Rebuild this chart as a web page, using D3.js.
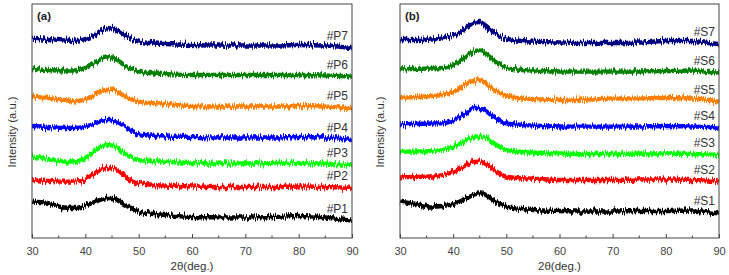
<!DOCTYPE html>
<html>
<head>
<meta charset="utf-8">
<script src="https://cdn.jsdelivr.net/npm/d3@7"></script>
<style>
  body { margin: 0; background: #fff; }
  text { font-family: Arial, "Liberation Sans", sans-serif; }
</style>
</head>
<body>
<div id="chart"></div>
<script>
// 2theta sample points (deg.)
var theta = [30, 33, 36, 38, 40, 41, 42, 43, 44, 45, 46, 47, 48, 49, 50, 52, 55, 60, 65, 70, 75, 80, 85, 88, 90];

// panel (a) intensities (a.u.)
var p1 = [36.3, 35, 30.5, 30, 32.5, 34.5, 36.5, 38.5, 40, 40, 38, 34.5, 31.5, 29, 26.5, 24.5, 23, 21, 20.7, 20.5, 21, 22, 20.5, 18.5, 17.3];
var p2 = [58, 57, 56.3, 56.3, 59, 62, 65.5, 68.5, 70, 70, 68, 64, 60, 57, 55, 53.5, 52.5, 51.5, 51, 51, 51, 51.5, 51, 50.5, 50];
var p3 = [81.3, 79, 76.5, 76.5, 80, 83.5, 88, 91.5, 93, 92.5, 90, 86, 82.5, 79.5, 78, 77, 76.3, 75, 74.5, 74.5, 75, 75, 74.5, 73.5, 73];
var p4 = [112, 111, 110, 110, 111.5, 113, 115, 117, 118, 118, 116, 113, 109.5, 106.5, 104, 102.5, 101.5, 101, 100.5, 100.5, 100.5, 101, 100.5, 99, 98];
var p5 = [141.3, 140, 138, 136.5, 139, 141, 144, 146.5, 148, 148, 146, 143, 140, 138, 136.5, 135, 134, 132, 131.5, 131.5, 131.5, 132, 131.5, 130.5, 130];
var p6 = [169, 168, 167.5, 167.5, 170, 172.5, 176, 179, 180.5, 180.5, 178, 174, 170.5, 168, 166.5, 165, 164, 163, 163, 163, 163, 163, 162.5, 162, 161.3];
var p7 = [200.3, 199, 197.5, 197, 199, 201, 204, 207.5, 209.5, 210, 208, 204.5, 201, 198.5, 196.5, 195, 194, 193, 192.5, 192.5, 192.5, 193, 192.5, 191, 190];

// panel (b) intensities (a.u.)
var s1 = [36.3, 34, 31.5, 32, 34, 36, 38.5, 41, 43.5, 44.7, 43.5, 40, 36.5, 33.5, 31.3, 29.5, 28, 27, 26.5, 26.5, 27, 27, 27.5, 25.5, 24.7];
var s2 = [60.7, 61, 61.5, 63, 66, 68.5, 71.5, 74.5, 76, 76.3, 74.5, 71, 67, 63.5, 61.3, 60, 59.3, 58, 58, 58, 58.5, 58.5, 58, 57.5, 56.3];
var s3 = [86.3, 86.5, 87, 88, 91, 93.5, 96.5, 99, 101, 101.5, 100.5, 97.5, 93.5, 90.5, 88, 86.5, 85.5, 84.5, 84, 84, 84.5, 84.5, 84, 83.5, 83];
var s4 = [113.7, 114, 114.5, 114.7, 117.5, 120, 123.5, 127.5, 130, 130, 127.5, 123.5, 119.5, 116.5, 114.7, 113.5, 112.5, 111.5, 111.3, 111.3, 111.5, 112, 111.5, 111, 110.3];
var s5 = [140.3, 141, 142, 143, 146, 149, 152.5, 155.5, 157.5, 157.5, 155, 151, 147.5, 144.5, 142, 140, 139, 138, 138.5, 139.5, 139.7, 140, 139.5, 138, 136.3];
var s6 = [168.7, 169, 169.5, 170, 173, 176, 180, 184, 187, 187.5, 185, 180.5, 176, 172.5, 170, 168.5, 167.5, 166.5, 166.3, 166.3, 166.5, 167, 167.5, 166, 165.3];
var s7 = [198, 198, 198.5, 199.7, 202.5, 205, 208.5, 212.5, 215.5, 216, 213, 208.5, 204.5, 201.5, 199.5, 197.5, 196.3, 195.5, 195, 195, 195.5, 197, 197, 195, 194];

var namesA = ["#P1", "#P2", "#P3", "#P4", "#P5", "#P6", "#P7"],
    namesB = ["#S1", "#S2", "#S3", "#S4", "#S5", "#S6", "#S7"],
    seriesA = [p1, p2, p3, p4, p5, p6, p7],
    seriesB = [s1, s2, s3, s4, s5, s6, s7],
    colors = ["#000000", "#ff0000", "#00ff00", "#0000ff", "#ff8000", "#008000", "#000080"];
var xTicks = [30, 40, 50, 60, 70, 80, 90],
    xMinor = [35, 45, 55, 65, 75, 85];

var W = 729, H = 275;
var svg = d3.select("#chart").append("svg").attr("width", W).attr("height", H);

// jagged look for the noisy scans
var defs = svg.append("defs");
var flt = defs.append("filter").attr("id", "noisy")
              .attr("filterUnits", "userSpaceOnUse").attr("x", 0).attr("y", 0).attr("width", W).attr("height", H);
flt.append("feTurbulence").attr("type", "fractalNoise").attr("baseFrequency", "1.1 0.04")
   .attr("numOctaves", 2).attr("seed", 3).attr("result", "turb");
flt.append("feColorMatrix").attr("in", "turb").attr("type", "matrix")
   .attr("values", "0 0 0 0 0.5  0 1 0 0 0  0 0 0 0 0  0 0 0 0 1").attr("result", "disp");
flt.append("feDisplacementMap").attr("in", "SourceGraphic").attr("in2", "disp")
   .attr("scale", 8).attr("xChannelSelector", "R").attr("yChannelSelector", "G");

function drawPanel(opt) {
  var x = d3.scaleLinear().domain([30, 90]).range([opt.left, opt.right]),
      y = d3.scaleLinear().domain([0, 234]).range([opt.bottom, opt.top]);
  var g = svg.append("g");

  var line = d3.line().x(function(d, i) { return x(theta[i]); })
                      .y(function(d) { return y(d); })
                      .curve(d3.curveMonotoneX);
  var lines = g.append("g").attr("filter", "url(#noisy)");
  opt.series.forEach(function(s, k) {
    lines.append("path").datum(s).attr("d", line)
         .attr("fill", "none").attr("stroke", colors[k]).attr("stroke-width", 4.3)
         .attr("stroke-linejoin", "round");
    g.append("text").attr("x", opt.right - 4).attr("y", y(s[s.length - 1]) - 8)
     .attr("text-anchor", "end").attr("font-size", 12).attr("fill", "#333").text(opt.names[k]);
  });

  // frame
  g.append("rect").attr("x", opt.left).attr("y", opt.top)
   .attr("width", opt.right - opt.left).attr("height", opt.bottom - opt.top)
   .attr("fill", "none").attr("stroke", "#444").attr("stroke-width", 1);

  // bottom axis, ticks inward
  var ax = g.append("g").attr("transform", "translate(0," + opt.bottom + ")")
            .call(d3.axisBottom(x).tickValues(xTicks).tickSize(-4).tickPadding(9).tickFormat(d3.format("d")));
  ax.select(".domain").remove();
  ax.selectAll("line").attr("stroke", "#444");
  ax.selectAll("text").attr("font-size", 11).attr("fill", "#444").attr("font-family", "Arial, 'Liberation Sans', sans-serif");
  g.selectAll(".minor").data(xMinor).enter().append("line")
   .attr("x1", function(d) { return x(d); }).attr("x2", function(d) { return x(d); })
   .attr("y1", opt.bottom).attr("y2", opt.bottom - 2.5).attr("stroke", "#444");

  g.append("text").attr("x", (opt.left + opt.right) / 2).attr("y", 270)
   .attr("text-anchor", "middle").attr("font-size", 11.5).attr("fill", "#333").text("2θ(deg.)");
  g.append("text").attr("transform", "translate(" + opt.ytx + "," + ((opt.top + opt.bottom) / 2 + 11) + ") rotate(-90)")
   .attr("text-anchor", "middle").attr("font-size", 11.2).attr("fill", "#333").text("Intensity (a.u.)");
  g.append("text").attr("x", opt.left + 5).attr("y", 20)
   .attr("font-size", 11.5).attr("font-weight", "bold").attr("fill", "#222").text(opt.tag);
}

drawPanel({left: 32, right: 352, top: 4, bottom: 238, ytx: 16, series: seriesA, names: namesA, tag: "(a)"});
drawPanel({left: 400, right: 719, top: 4, bottom: 238, ytx: 384, series: seriesB, names: namesB, tag: "(b)"});
</script>
</body>
</html>
